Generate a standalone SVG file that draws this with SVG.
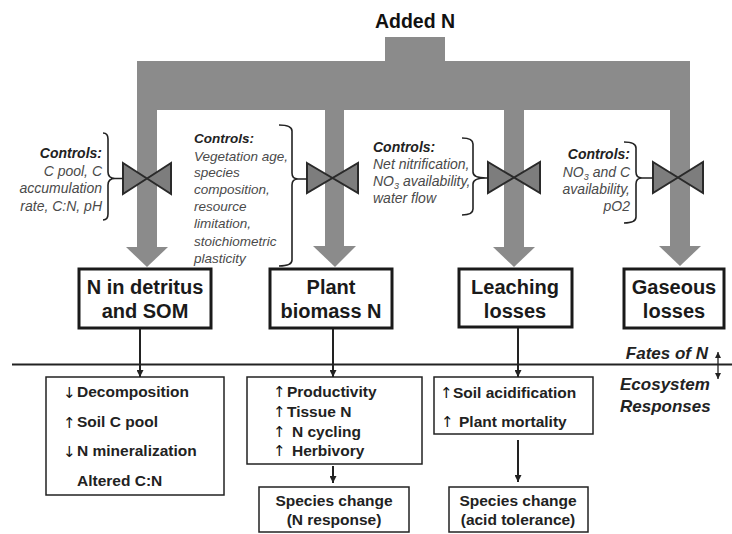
<svg xmlns="http://www.w3.org/2000/svg" width="732" height="534" viewBox="0 0 732 534">
<defs>
<marker id="ah" viewBox="0 0 10 10" refX="10" refY="5" markerWidth="7" markerHeight="7" markerUnits="userSpaceOnUse" orient="auto"><path d="M0,0 L10,5 L0,10 z" fill="#222"/></marker>
<marker id="ahs" viewBox="0 0 10 10" refX="10" refY="5" markerWidth="6" markerHeight="6" markerUnits="userSpaceOnUse" orient="auto-start-reverse"><path d="M0,0 L10,5 L0,10 z" fill="#222"/></marker>
<style>
.flow{fill:#8b8b8b}
.valve{fill:#7d7d7d;stroke:#2a2a2a;stroke-width:2;stroke-linejoin:miter}
.brace{fill:none;stroke:#222;stroke-width:1.6}
.ctl{font-family:"Liberation Sans",Arial,sans-serif;font-size:14px;font-style:italic;fill:#4a4a4a}
.ctlh{font-weight:bold;fill:#222}
.pool rect{fill:#fff;stroke:#1a1a1a;stroke-width:3}
.pool text{font-family:"Liberation Sans",Arial,sans-serif;font-size:20px;font-weight:bold;fill:#1a1a1a;text-anchor:middle}
.resp rect{fill:#fff;stroke:#222;stroke-width:1.5}
.resp text{font-family:"Liberation Sans",Arial,sans-serif;font-size:15.5px;font-weight:bold;fill:#222}
.resp text.ar{font-family:"DejaVu Sans",sans-serif;font-size:15px;font-weight:normal;fill:#111}
.mid{text-anchor:middle}
.conn line{stroke:#222;stroke-width:2;marker-end:url(#ah)}
.lbl{font-family:"Liberation Sans",Arial,sans-serif;font-size:17px;font-weight:bold;font-style:italic;fill:#222}
</style>
</defs>
<rect width="732" height="534" fill="#fff"/>

<text x="415" y="28" font-family="Liberation Sans, Arial, sans-serif" font-size="19.5" font-weight="bold" fill="#111" text-anchor="middle">Added N</text>

<g id="flows">
<rect class="flow" x="385" y="37" width="60" height="25"/>
<rect class="flow" x="137" y="61" width="553" height="49"/>
<rect class="flow" x="137" y="109" width="20" height="139"/>
<polygon class="flow" points="126,247 168,247 147,267"/>
<rect class="flow" x="325" y="109" width="19" height="138"/>
<polygon class="flow" points="313,246 356,246 335,267"/>
<rect class="flow" x="504" y="109" width="20" height="139"/>
<polygon class="flow" points="493,247 535,247 514,267"/>
<rect class="flow" x="670" y="109" width="20" height="138"/>
<polygon class="flow" points="659,246 701,246 680,266"/>
</g>

<g id="control1">
<polygon class="valve" points="123,163 171,194 171,163 123,194"/>
<path class="brace" d="M103,133 Q108,133 108,139 L108,172 Q108,178.5 115,178.5 Q108,178.5 108,185 L108,214 Q108,220 103,220 M115,178.5 L123,178.5"/>
<text class="ctl" text-anchor="end"><tspan class="ctlh" x="102" y="158">Controls:</tspan><tspan x="102" y="175.5">C pool, C</tspan><tspan x="102" y="193">accumulation</tspan><tspan x="102" y="210.5">rate, C:N, pH</tspan></text>
</g>

<g id="control2">
<polygon class="valve" points="307,163 358,193 358,163 307,193"/>
<path class="brace" d="M279,125 Q292,125 292,131 L292,173 Q292,179 298,179 Q292,179 292,185 L292,260 Q292,266 279,266 M298,179 L307,179"/>
<text class="ctl" style="font-size:13.5px"><tspan class="ctlh" x="194" y="142.5">Controls:</tspan><tspan x="194" y="160.5">Vegetation age,</tspan><tspan x="194" y="177">species</tspan><tspan x="194" y="194">composition,</tspan><tspan x="194" y="211">resource</tspan><tspan x="194" y="228">limitation,</tspan><tspan x="194" y="245.5">stoichiometric</tspan><tspan x="194" y="263">plasticity</tspan></text>
</g>

<g id="control3">
<polygon class="valve" points="488,162 540,193 540,162 488,193"/>
<path class="brace" d="M462,138 Q473,138 473,144 L473,172 Q473,178 486,178 Q473,178 473,184 L473,209 Q473,215 462,215 M486,178 L488,178"/>
<text class="ctl"><tspan class="ctlh" x="373" y="152">Controls:</tspan><tspan x="373" y="169">Net nitrification,</tspan><tspan x="373" y="186">NO<tspan font-size="9" dy="3">3</tspan><tspan dy="-3"> availability,</tspan></tspan><tspan x="373" y="203">water flow</tspan></text>
</g>

<g id="control4">
<polygon class="valve" points="653,162 703,193 703,162 653,193"/>
<path class="brace" d="M624,142 Q636,142 636,148 L636,172 Q636,178 642,178 Q636,178 636,184 L636,217 Q636,223 624,223 M642,178 L653,178"/>
<text class="ctl" text-anchor="end"><tspan class="ctlh" x="630" y="159">Controls:</tspan><tspan x="630" y="176.5">NO<tspan font-size="9" dy="3">3</tspan><tspan dy="-3"> and C</tspan></tspan><tspan x="630" y="193.5">availability,</tspan><tspan x="630" y="210.5">pO2</tspan></text>
</g>

<g id="pool-detritus" class="pool">
<rect x="79" y="269" width="132" height="59"/>
<text x="145" y="294">N in detritus</text>
<text x="145" y="318">and SOM</text>
</g>
<g id="pool-plant" class="pool">
<rect x="270" y="269" width="122" height="59"/>
<text x="331" y="294">Plant</text>
<text x="331" y="318">biomass N</text>
</g>
<g id="pool-leaching" class="pool">
<rect x="459" y="269" width="113" height="58"/>
<text x="515" y="294">Leaching</text>
<text x="515" y="318">losses</text>
</g>
<g id="pool-gaseous" class="pool">
<rect x="624" y="269" width="100" height="59"/>
<text x="674" y="294">Gaseous</text>
<text x="674" y="318">losses</text>
</g>

<line x1="12" y1="364.5" x2="732" y2="364.5" stroke="#222" stroke-width="2"/>
<text class="lbl" x="708" y="359" text-anchor="end">Fates of N</text>
<text class="lbl"><tspan x="620" y="390">Ecosystem</tspan><tspan x="620" y="412">Responses</tspan></text>
<line x1="718" y1="352" x2="718" y2="379" stroke="#222" stroke-width="1.3" marker-start="url(#ahs)" marker-end="url(#ahs)"/>

<g id="resp-detritus" class="resp">
<rect x="46" y="377" width="178" height="118"/>
<text class="ar" x="63" y="398">↓</text><text x="77" y="397">Decomposition</text>
<text class="ar" x="63" y="428">↑</text><text x="77" y="427">Soil C pool</text>
<text class="ar" x="63" y="457">↓</text><text x="77" y="456">N mineralization</text>
<text x="77" y="486">Altered C:N</text>
</g>
<g id="resp-plant" class="resp">
<rect x="247" y="377" width="175" height="87"/>
<text class="ar" x="273" y="397">↑</text><text x="287" y="397">Productivity</text>
<text class="ar" x="273" y="417">↑</text><text x="287" y="417">Tissue N</text>
<text class="ar" x="273" y="437">↑</text><text x="292" y="437">N cycling</text>
<text class="ar" x="273" y="456">↑</text><text x="292" y="456">Herbivory</text>
</g>
<g id="species-n" class="resp">
<rect x="259" y="487" width="150" height="45"/>
<text class="mid" x="334" y="506">Species change</text>
<text class="mid" x="334" y="525">(N response)</text>
</g>
<g id="resp-leaching" class="resp">
<rect x="434" y="377" width="159" height="57"/>
<text class="ar" x="440" y="398">↑</text><text x="453" y="398">Soil acidification</text>
<text class="ar" x="441" y="427">↑</text><text x="459" y="427">Plant mortality</text>
</g>
<g id="species-acid" class="resp">
<rect x="449" y="487" width="139" height="45"/>
<text class="mid" x="518" y="506">Species change</text>
<text class="mid" x="518" y="525">(acid tolerance)</text>
</g>

<g id="connectors" class="conn">
<line x1="140" y1="329" x2="140" y2="377"/>
<line x1="333" y1="329" x2="333" y2="377"/>
<line x1="518" y1="328" x2="518" y2="377"/>
<line x1="333" y1="466" x2="333" y2="483"/>
<line x1="518" y1="440" x2="518" y2="482"/>
</g>
</svg>
